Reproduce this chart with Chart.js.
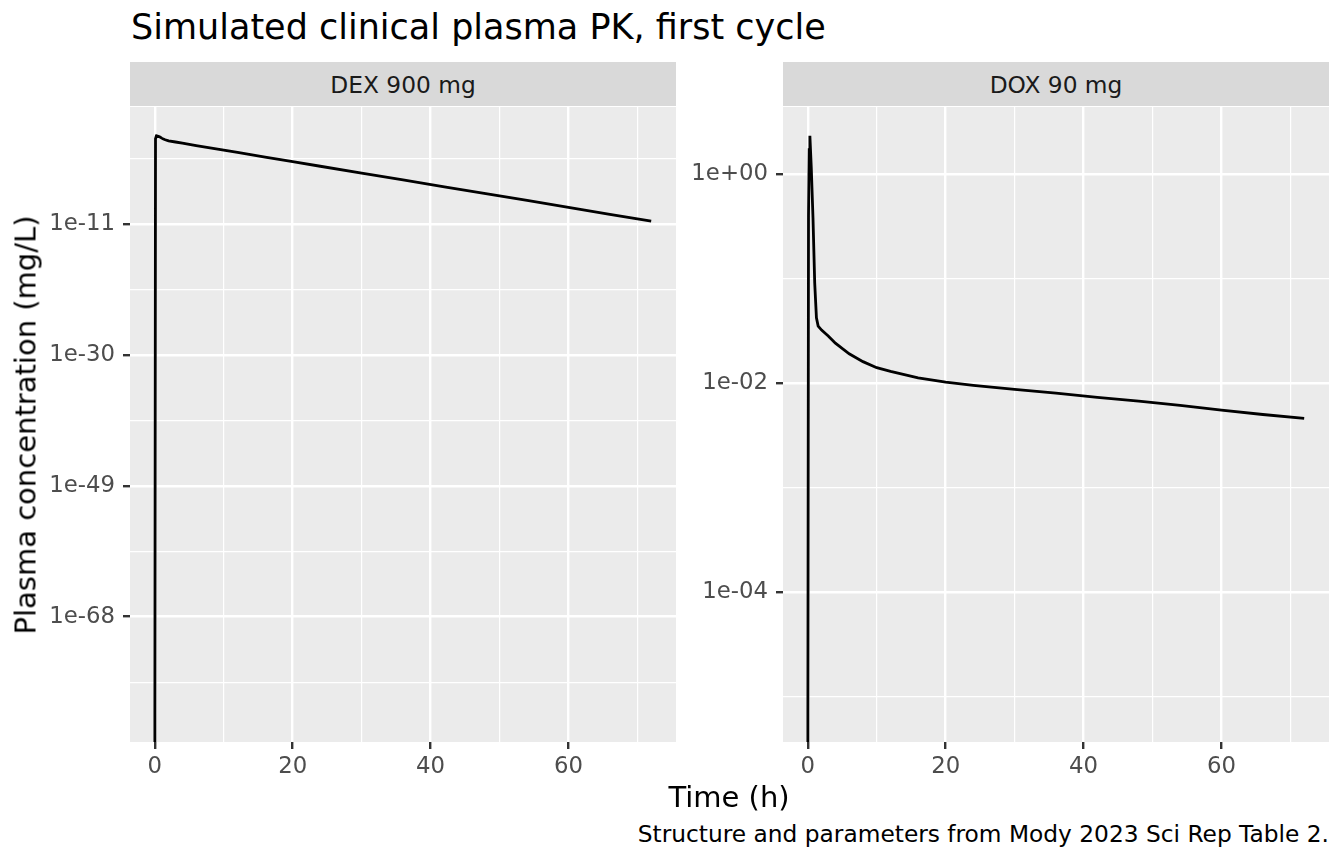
<!DOCTYPE html>
<html>
<head>
<meta charset="utf-8">
<script src="https://cdn.jsdelivr.net/npm/chart.js@4.4.1/dist/chart.umd.min.js"></script>
<style>
  body { margin: 0; background: #fff; font-family: "DejaVu Sans", sans-serif; }
  #wrap { position: relative; width: 1344px; height: 864px; overflow: hidden; }
  .txt { position: absolute; white-space: nowrap; line-height: 1; }
  .strip { position: absolute; top: 62px; height: 44px; background: #d9d9d9; color: #1a1a1a;
           font-size: 23.3px; display: flex; align-items: center; justify-content: center; }
  .box { position: absolute; }
</style>
</head>
<body>
<div id="wrap">
  <div class="txt" style="left:131px; top:10px; font-size:35px; color:#000;">Simulated clinical plasma PK, first cycle</div>

  <div class="strip" style="left:130px; width:546px;">DEX 900 mg</div>
  <div class="strip" style="left:783px; width:546px;">DOX 90 mg</div>

  <div class="box" style="left:0px; top:107px; width:676px; height:675px;"><canvas id="dexChart"></canvas></div>
  <div class="box" style="left:683px; top:107px; width:646px; height:675px;"><canvas id="doxChart"></canvas></div>

  <div class="txt" style="left:26px; top:425px; font-size:29px; color:#000; transform:translate(-50%,-50%) rotate(-90deg);">Plasma concentration (mg/L)</div>
  <div class="txt" style="left:729px; top:797px; font-size:29px; color:#000; transform:translate(-50%,-50%);">Time (h)</div>
  <div class="txt" style="right:15px; top:834px; font-size:23.3px; color:#000; transform:translateY(-50%);">Structure and parameters from Mody 2023 Sci Rep Table 2.</div>
</div>

<script>
// sampling times (h), shared by both drugs
const times = [0, 0.01, 0.1, 0.2, 0.3, 0.5, 0.75, 1, 1.25, 1.5, 2, 3, 4, 6, 8, 10, 12, 16, 20, 24, 30, 36, 42, 48, 54, 60, 66, 72];

// plasma concentration (mg/L)
const dexConc = [0, 1e-82, 22, 48, 59, 52, 40, 28, 20, 16, 11.2, 7.6, 5.1, 2.3, 1.1, 0.50, 0.23, 0.050, 0.0107,
                 2.3e-3, 2.4e-4, 2.4e-5, 2.4e-6, 2.5e-7, 2.5e-8, 2.4e-9, 2.4e-10, 2.45e-11];
const doxConc = [0, 7e-6, 0.4, 1.7, 2.3, 1.15, 0.38, 0.09, 0.042, 0.035, 0.032, 0.028, 0.024, 0.019, 0.016, 0.014,
                 0.0129, 0.0112, 0.0102, 0.0095, 0.0087, 0.0080, 0.0073, 0.0067, 0.0061, 0.0055, 0.0050, 0.0046];

// axis breaks and labels
const xBreaks = [0, 20, 40, 60];
const xLabels = ['0', '20', '40', '60'];
const dexBreaks = [1e-68, 1e-49, 1e-30, 1e-11];
const dexLabels = ['1e-68', '1e-49', '1e-30', '1e-11'];
const doxBreaks = [1e-4, 1e-2, 1e0];
const doxLabels = ['1e-04', '1e-02', '1e+00'];

const tickText = '#4d4d4d';
const tickMark = '#333333';
const tickFont = { family: 'DejaVu Sans', size: 22.8 };

// ggplot style range: data range plus 5% each side
function expand(lo, hi) {
    const pad = (hi - lo) * 0.05;
    return [lo - pad, hi + pad];
}

// majors plus midpoints between them (one extra step each side)
function withMinors(breaks, labels, toT, fromT) {
    const t = breaks.map(toT);
    const step = t[1] - t[0];
    const out = breaks.map((b, i) => ({ value: b, text: labels[i], minor: false }));
    for (let i = -1; i < t.length; i++) {
        const a = i < 0 ? t[0] - step : t[i];
        out.push({ value: fromT(a + step / 2), text: '', minor: true });
    }
    return out.sort((p, q) => p.value - q.value);
}

const panelBg = {
    id: 'panelBg',
    beforeDraw(chart) {
        const { ctx, chartArea: a } = chart;
        ctx.save();
        ctx.fillStyle = '#ebebeb';
        ctx.fillRect(a.left, a.top, a.right - a.left, a.bottom - a.top);
        ctx.restore();
    }
};

const gridOpts = {
    color: '#ffffff',
    lineWidth: c => (c.tick && c.tick.minor ? 1.2 : 2.4),
    tickColor: c => (c.tick && c.tick.minor ? 'rgba(0,0,0,0)' : tickMark),
    tickWidth: 2.4,
    tickLength: 7,
    drawTicks: true
};

function initPanel(id, conc, yBreaks, yLabels, axisWidth) {
    const ctx = document.getElementById(id).getContext('2d');
    const points = times.map((t, i) => ({ x: t, y: conc[i] }));

    const [xMin, xMax] = expand(Math.min(...times), Math.max(...times));
    const logs = conc.filter(v => v > 0).map(Math.log10);
    const [yLo, yHi] = expand(Math.min(...logs), Math.max(...logs));

    const xTicks = withMinors(xBreaks, xLabels, v => v, v => v)
        .filter(t => t.value >= xMin && t.value <= xMax);
    const yTicks = withMinors(yBreaks, yLabels, Math.log10, v => Math.pow(10, v))
        .filter(t => Math.log10(t.value) >= yLo && Math.log10(t.value) <= yHi);

    new Chart(ctx, {
        type: 'line',
        data: {
            datasets: [{
                data: points,
                borderColor: '#000000',
                borderWidth: 2.8,
                pointRadius: 0,
                tension: 0,
                fill: false
            }]
        },
        options: {
            responsive: true,
            maintainAspectRatio: false,
            animation: false,
            parsing: false,
            layout: { padding: 0 },
            plugins: {
                legend: { display: false },
                tooltip: { enabled: false }
            },
            scales: {
                x: {
                    type: 'linear',
                    min: xMin,
                    max: xMax,
                    grid: gridOpts,
                    border: { display: false },
                    ticks: {
                        autoSkip: false,
                        maxRotation: 0,
                        padding: 4,
                        color: tickText,
                        font: tickFont,
                        callback: (v, i, ticks) => ticks[i].text
                    },
                    afterBuildTicks: s => { s.ticks = xTicks.map(t => ({ ...t })); },
                    afterFit: s => { s.height = 40; s.paddingLeft = 0; s.paddingRight = 0; }
                },
                y: {
                    type: 'logarithmic',
                    min: Math.pow(10, yLo),
                    max: Math.pow(10, yHi),
                    grid: gridOpts,
                    border: { display: false },
                    ticks: {
                        autoSkip: false,
                        padding: 8,
                        color: tickText,
                        font: tickFont,
                        callback: (v, i, ticks) => ticks[i].text
                    },
                    afterBuildTicks: s => { s.ticks = yTicks.map(t => ({ ...t })); },
                    afterFit: s => { s.width = axisWidth; s.paddingTop = 0; s.paddingBottom = 0; }
                }
            }
        },
        plugins: [panelBg]
    });
}

document.addEventListener('DOMContentLoaded', () => {
    initPanel('dexChart', dexConc, dexBreaks, dexLabels, 130);
    initPanel('doxChart', doxConc, doxBreaks, doxLabels, 100);
});
</script>
</body>
</html>
